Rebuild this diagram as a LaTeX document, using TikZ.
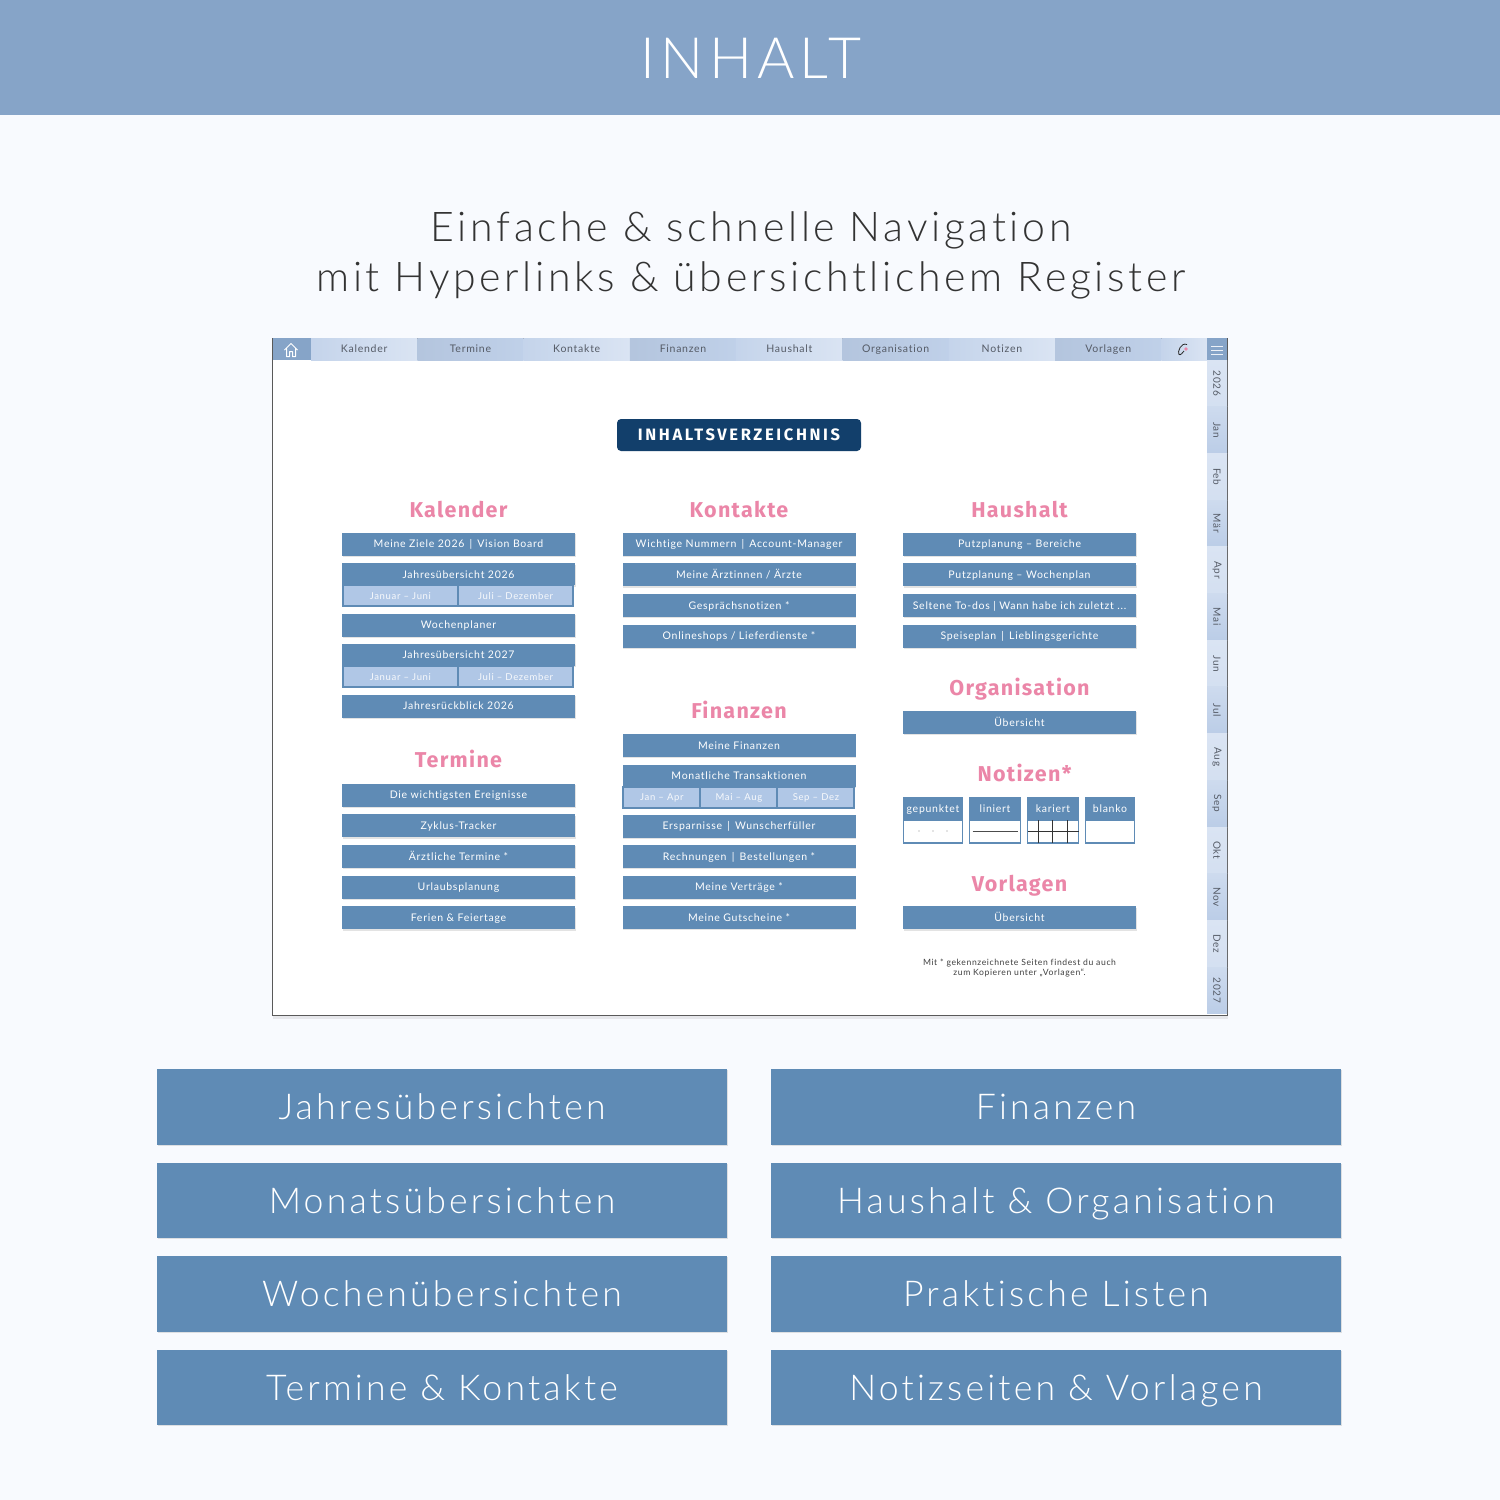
\documentclass[tikz,border=0pt]{standalone}
\usepackage{fontspec}
\usepackage{xcolor}
\usepackage{tikz}
\usetikzlibrary{positioning, shadows, calc}
\setmainfont{Lato}
\newfontfamily\lightfont[LetterSpace=9, Ligatures=NoCommon]{Lato Light}
\newfontfamily\plainfont[LetterSpace=7, Ligatures=NoCommon]{Lato}
\newfontfamily\headfont[LetterSpace=6, Ligatures=NoCommon]{Fira Sans}
\newfontfamily\badgefont[LetterSpace=16, Ligatures=NoCommon]{Fira Sans}
\definecolor{headerblue}{HTML}{86A4C8}
\definecolor{pageback}{HTML}{F8FAFE}
\definecolor{entryblue}{HTML}{5F8BB5}
\definecolor{subblue}{HTML}{B0C7E6}
\definecolor{tablight}{HTML}{DAE4F3}
\definecolor{tabdark}{HTML}{BBCDE7}
\definecolor{navyblue}{HTML}{123F6B}
\definecolor{headpink}{HTML}{EB86A8}
\definecolor{tabtext}{HTML}{555B66}
\tikzstyle{softshadow} = [drop shadow={shadow xshift=0.8pt, shadow yshift=-1.2pt, opacity=0.18, fill=black!60}]
\tikzstyle{entry} = [rectangle, minimum width=233pt, minimum height=23pt, inner sep=0pt, outer sep=0pt, text centered, text height=7.5pt, text depth=0pt, fill=entryblue, text=white, font=\plainfont\fontsize{10.5}{12}\selectfont, softshadow]
\tikzstyle{subentry} = [rectangle, minimum height=21pt, inner sep=0pt, outer sep=0pt, text centered, text height=7pt, text depth=0pt, fill=subblue, draw=entryblue, line width=2pt, text=white!90!subblue, font=\plainfont\fontsize{9.5}{11}\selectfont]
\tikzstyle{heading} = [inner sep=0pt, text height=15pt, text depth=0pt, text=headpink, font=\headfont\bfseries\fontsize{21.5}{26}\selectfont]
\tikzstyle{bigbutton} = [rectangle, minimum width=570pt, minimum height=75.5pt, inner sep=0pt, outer sep=0pt, text centered, text height=26pt, text depth=0pt, fill=entryblue, text=white, font=\lightfont\fontsize{35.6}{42}\selectfont, softshadow]
\tikzstyle{toptab} = [rectangle, minimum width=106.3pt, minimum height=22pt, inner sep=0pt, outer sep=0pt, text centered, text height=7.5pt, text depth=0pt, text=tabtext, font=\plainfont\fontsize{10.5}{12}\selectfont]
\tikzstyle{toplight} = [toptab, left color=tabdark!70!tablight, right color=tablight]
\tikzstyle{topdark} = [toptab, left color=tabdark!96!black, right color=tabdark!85!tablight]
\tikzstyle{sidetab} = [rectangle, minimum width=20pt, minimum height=46.7pt, inner sep=0pt, outer sep=0pt, text centered, text=tabtext, font=\plainfont\fontsize{10}{12}\selectfont]
\tikzstyle{sidelight} = [sidetab, top color=tablight, bottom color=tablight!80!tabdark]
\tikzstyle{sidedark} = [sidetab, top color=tablight!60!tabdark, bottom color=tabdark]
\tikzstyle{cardhead} = [rectangle, minimum height=23pt, inner sep=0pt, outer sep=0pt, text centered, text height=7.5pt, text depth=0pt, fill=entryblue, text=white, font=\plainfont\fontsize{10.5}{12}\selectfont]
\tikzstyle{cardbody} = [rectangle, minimum height=23pt, inner sep=0pt, outer sep=0pt, fill=white, draw=entryblue, line width=1.2pt, softshadow]

\begin{document}
\begin{tikzpicture}[x=1pt, y=-1pt]
\useasboundingbox (0,0) rectangle (1500,1500);
\fill [pageback] (0,0) rectangle (1500,1500);

% header and subtitle
\node (bar) [rectangle, anchor=north west, minimum width=1500pt, minimum height=115pt, inner sep=0pt, fill=headerblue] at (0,0) {};
\node (title) [text=white, font=\lightfont\fontsize{57}{60}\selectfont] at (751,58) {INHALT};
\node (sub1) [text=black!80, font=\lightfont\fontsize{41}{46}\selectfont] at (751,230) {Einfache \& schnelle Navigation};
\node (sub2) [text=black!80, font=\lightfont\fontsize{41}{46}\selectfont] at (751,280) {mit Hyperlinks \& übersichtlichem Register};

% planner page
\node (page) [rectangle, anchor=north west, minimum width=955pt, minimum height=677pt, inner sep=0pt, fill=white, draw=black!65, line width=1pt, drop shadow={shadow xshift=0pt, shadow yshift=-3pt, opacity=0.15, fill=black!50}] at (272,338) {};

% top tabs
\node (home) [rectangle, anchor=north west, minimum width=38.5pt, minimum height=22pt, inner sep=0pt, outer sep=0pt, fill=headerblue] at (272.5,338) {};
\node (tkal) [toplight, anchor=north west] at (311,338) {Kalender};
\node (tter) [topdark, right=0pt of tkal] {Termine};
\node (tkon) [toplight, right=0pt of tter] {Kontakte};
\node (tfin) [topdark, right=0pt of tkon] {Finanzen};
\node (thau) [toplight, right=0pt of tfin] {Haushalt};
\node (torg) [topdark, right=0pt of thau] {Organisation};
\node (tnot) [toplight, right=0pt of torg] {Notizen};
\node (tvor) [topdark, right=0pt of tnot] {Vorlagen};
\node (tpen) [rectangle, right=0pt of tvor, minimum width=45.6pt, minimum height=22pt, inner sep=0pt, outer sep=0pt, left color=tabdark!70!tablight, right color=tablight] {};
\node (menu) [rectangle, anchor=north west, minimum width=20pt, minimum height=22pt, inner sep=0pt, outer sep=0pt, fill=headerblue] at (1207,338) {};
\draw [white, line width=1pt, line join=round] (284.5,350) -- (291,343.5) -- (297.5,350) (286.5,348.5) -- (286.5,356.5) -- (289.5,356.5) -- (289.5,351.5) -- (292.5,351.5) -- (292.5,356.5) -- (295.5,356.5) -- (295.5,348.5);
\draw [black!85, line width=0.8pt] (1187,344.5) .. controls (1181,342) and (1177,352) .. (1179,354.5) .. controls (1180,355.5) and (1183,353) .. (1184,351);
\fill [headpink] (1186,349) circle (1.8pt);
\draw [white!85!headerblue, line width=0.9pt] (1211,346) -- (1223,346) (1211,350) -- (1223,350) (1211,354) -- (1223,354);

% side tabs
\node (s26) [sidelight, anchor=north west] at (1207,360) {\rotatebox{-90}{2026}};
\node (sjan) [sidedark, below=0pt of s26] {\rotatebox{-90}{Jan}};
\node (sfeb) [sidelight, below=0pt of sjan] {\rotatebox{-90}{Feb}};
\node (smar) [sidedark, below=0pt of sfeb] {\rotatebox{-90}{Mär}};
\node (sapr) [sidelight, below=0pt of smar] {\rotatebox{-90}{Apr}};
\node (smai) [sidedark, below=0pt of sapr] {\rotatebox{-90}{Mai}};
\node (sjun) [sidelight, below=0pt of smai] {\rotatebox{-90}{Jun}};
\node (sjul) [sidedark, below=0pt of sjun] {\rotatebox{-90}{Jul}};
\node (saug) [sidelight, below=0pt of sjul] {\rotatebox{-90}{Aug}};
\node (ssep) [sidedark, below=0pt of saug] {\rotatebox{-90}{Sep}};
\node (sokt) [sidelight, below=0pt of ssep] {\rotatebox{-90}{Okt}};
\node (snov) [sidedark, below=0pt of sokt] {\rotatebox{-90}{Nov}};
\node (sdez) [sidelight, below=0pt of snov] {\rotatebox{-90}{Dez}};
\node (s27) [sidedark, below=0pt of sdez] {\rotatebox{-90}{2027}};

% contents badge
\node (badge) [rectangle, rounded corners=4pt, minimum width=244pt, minimum height=32pt, inner sep=0pt, text height=11.5pt, text depth=0pt, fill=navyblue, text=white, font=\badgefont\bfseries\fontsize{16.5}{18}\selectfont] at (739,435) {INHALTSVERZEICHNIS};

% first column
\node (hkal) [heading] at (458.5,509.5) {Kalender};
\node (ziele) [entry] at (458.5,544.2) {Meine Ziele 2026 \,|\, Vision Board};
\node (jahrA) [entry, minimum height=22pt, below=7.6pt of ziele] {Jahresübersicht 2026};
\node (janA) [subentry, minimum width=115pt, anchor=north west] at ($(jahrA.south west)+(0.9,0)$) {Januar – Juni};
\node (julA) [subentry, minimum width=115.4pt, right=0pt of janA] {Juli – Dezember};
\node (woche) [entry, below=28.3pt of jahrA] {Wochenplaner};
\node (jahrB) [entry, minimum height=22pt, below=7.6pt of woche] {Jahresübersicht 2027};
\node (janB) [subentry, minimum width=115pt, anchor=north west] at ($(jahrB.south west)+(0.9,0)$) {Januar – Juni};
\node (julB) [subentry, minimum width=115.4pt, right=0pt of janB] {Juli – Dezember};
\node (rueck) [entry, below=28.3pt of jahrB] {Jahresrückblick 2026};

\node (hter) [heading] at (458.5,760) {Termine};
\node (ereig) [entry] at (458.5,795.2) {Die wichtigsten Ereignisse};
\node (zyklus) [entry, below=7.65pt of ereig] {Zyklus-Tracker};
\node (arzt) [entry, below=7.65pt of zyklus] {Ärztliche Termine *};
\node (urlaub) [entry, below=7.65pt of arzt] {Urlaubsplanung};
\node (ferien) [entry, below=7.65pt of urlaub] {Ferien \& Feiertage};

% second column
\node (hkon) [heading] at (739,509.5) {Kontakte};
\node (nummern) [entry] at (739,544.2) {Wichtige Nummern \,|\, Account-Manager};
\node (aerzte) [entry, below=7.65pt of nummern] {Meine Ärztinnen / Ärzte};
\node (gespr) [entry, below=7.65pt of aerzte] {Gesprächsnotizen *};
\node (shops) [entry, below=7.65pt of gespr] {Onlineshops / Lieferdienste *};

\node (hfin) [heading] at (739,711) {Finanzen};
\node (finanz) [entry] at (739,745.5) {Meine Finanzen};
\node (trans) [entry, minimum height=22pt, below=7.6pt of finanz] {Monatliche Transaktionen};
\node (janC) [subentry, minimum width=77pt, anchor=north west] at ($(trans.south west)+(0.9,0)$) {Jan – Apr};
\node (maiC) [subentry, minimum width=77pt, right=0pt of janC] {Mai – Aug};
\node (sepC) [subentry, minimum width=77pt, right=0pt of maiC] {Sep – Dez};
\node (spar) [entry, below=28pt of trans] {Ersparnisse \,|\, Wunscherfüller};
\node (rechn) [entry, below=7.5pt of spar] {Rechnungen \,|\, Bestellungen *};
\node (vertr) [entry, below=7.5pt of rechn] {Meine Verträge *};
\node (gutsch) [entry, below=7.5pt of vertr] {Meine Gutscheine *};

% third column
\node (hhau) [heading] at (1019.5,509.5) {Haushalt};
\node (putzA) [entry] at (1019.5,544.2) {Putzplanung – Bereiche};
\node (putzB) [entry, below=7.65pt of putzA] {Putzplanung – Wochenplan};
\node (seltene) [entry, below=7.65pt of putzB] {Seltene To-dos | Wann habe ich zuletzt ...};
\node (speise) [entry, below=7.65pt of seltene] {Speiseplan \,|\, Lieblingsgerichte};

\node (horg) [heading] at (1019.5,688) {Organisation};
\node (uebA) [entry] at (1019.5,722.5) {Übersicht};

\node (hnot) [heading] at (1024.5,774) {Notizen*};
\node (gep) [cardhead, minimum width=60pt, anchor=north west] at (903,797) {gepunktet};
\node (gepb) [cardbody, minimum width=59pt, below=0pt of gep] {};
\node (lin) [cardhead, minimum width=52pt, anchor=north west] at (969,797) {liniert};
\node (linb) [cardbody, minimum width=51pt, below=0pt of lin] {};
\node (kar) [cardhead, minimum width=52pt, anchor=north west] at (1027,797) {kariert};
\node (karb) [cardbody, minimum width=51pt, below=0pt of kar] {};
\node (bla) [cardhead, minimum width=50pt, anchor=north west] at (1085,797) {blanko};
\node (blab) [cardbody, minimum width=49pt, below=0pt of bla] {};
\fill [black!45] (919,831) circle (0.6pt) (933,831) circle (0.6pt) (947,831) circle (0.6pt);
\draw [black!70, line width=0.7pt] (linb.west) ++(3,0) -- ++(45,0);
\draw [black!80, line width=0.6pt] (karb.west) -- (karb.east) (1038,820) -- (1038,843) (1052.5,820) -- (1052.5,843) (1067,820) -- (1067,843);

\node (hvor) [heading] at (1019.5,884) {Vorlagen};
\node (uebB) [entry] at (1019.5,917.8) {Übersicht};
\node (note) [align=center, text=black!75, font=\plainfont\fontsize{8.6}{10.6}\selectfont] at (1019.5,968) {Mit * gekennzeichnete Seiten findest du auch\\zum Kopieren unter „Vorlagen“.};

% buttons
\node (jahre) [bigbutton, anchor=north west] at (157,1069) {Jahresübersichten};
\node (monate) [bigbutton, below=18pt of jahre] {Monatsübersichten};
\node (wochen) [bigbutton, below=18pt of monate] {Wochenübersichten};
\node (termin) [bigbutton, below=18pt of wochen] {Termine \& Kontakte};
\node (fin) [bigbutton, anchor=north west] at (771,1069) {Finanzen};
\node (haus) [bigbutton, below=18pt of fin] {Haushalt \& Organisation};
\node (listen) [bigbutton, below=18pt of haus] {Praktische Listen};
\node (notiz) [bigbutton, below=18pt of listen] {Notizseiten \& Vorlagen};

\end{tikzpicture}
\end{document}
